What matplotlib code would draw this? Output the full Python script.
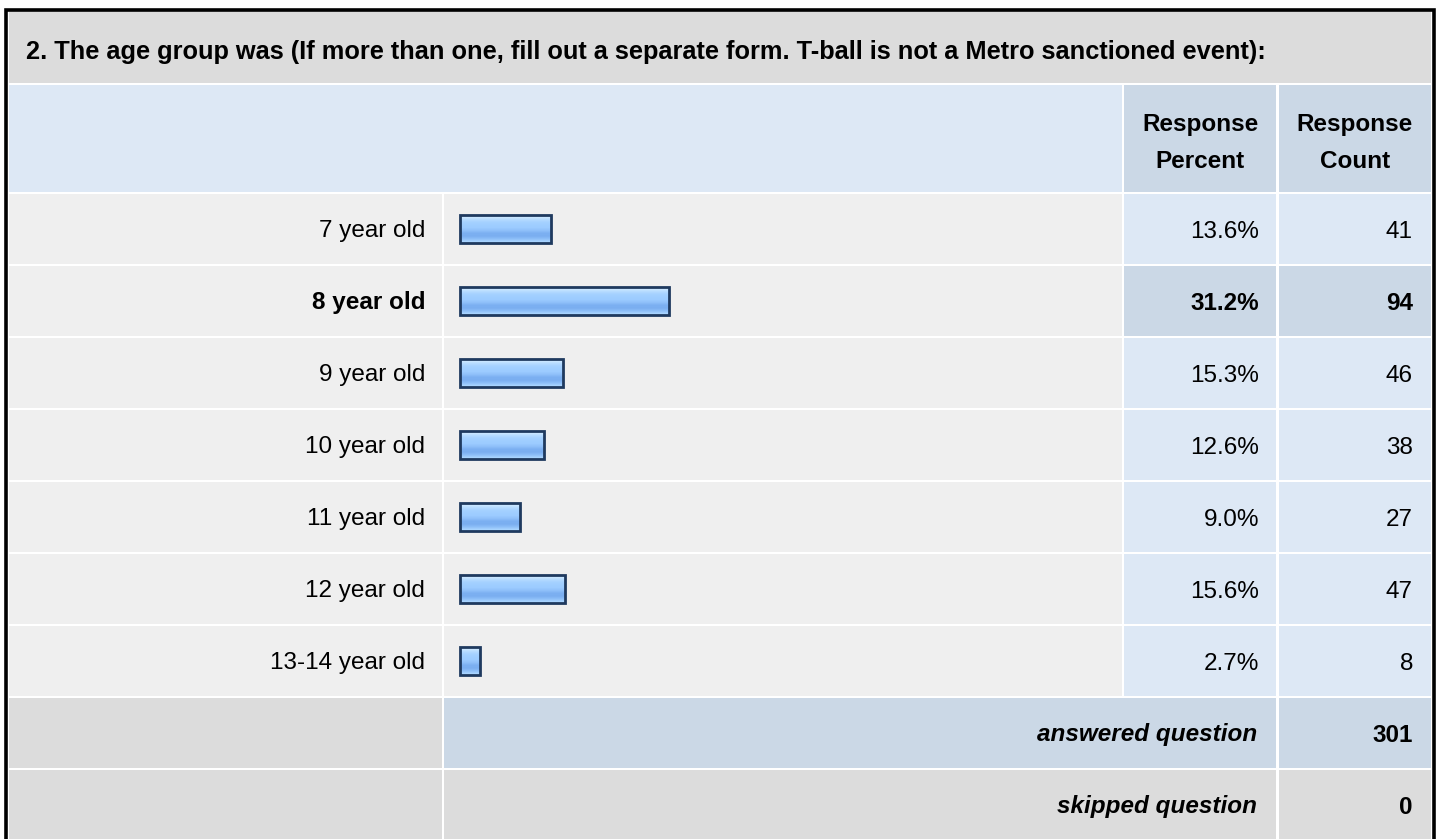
# plot.py
# survey results table: age group question, bars drawn with barh
import matplotlib
matplotlib.use('Agg')
import matplotlib.pyplot as plt
from matplotlib.patches import Rectangle
import numpy as np

plt.rcParams['font.family'] = ['Liberation Sans', 'DejaVu Sans']

# data
title = '2. The age group was (If more than one, fill out a separate form. T-ball is not a Metro sanctioned event):'
labels = ['7 year old', '8 year old', '9 year old', '10 year old', '11 year old', '12 year old', '13-14 year old']
percents = [13.6, 31.2, 15.3, 12.6, 9.0, 15.6, 2.7]
counts = [41, 94, 46, 38, 27, 47, 8]
answered = 301
skipped = 0
top_row = 1  # the highlighted (largest) answer

# colours
grey = '#dcdcdc'
row_grey = '#efefef'
light_blue = '#dde8f5'
mid_blue = '#cbd8e6'
fs = 17.5
off = 8.5  # baseline offset so caps sit centred in a row

fig = plt.figure(figsize=(14.4, 8.39), dpi=100)
ax = fig.add_axes([0, 0, 1, 1])
ax.set_xlim(0, 1440)
ax.set_ylim(839, 0)
ax.axis('off')

# column edges (pixels)
c_lab = (9, 442)
c_bar = (444, 1122)
c_pct = (1124, 1276)
c_cnt = (1279, 1431)

def cell(x0, x1, y0, y1, color):
    ax.add_patch(Rectangle((x0, y0), x1 - x0, y1 - y0, facecolor=color, edgecolor='none', zorder=1))

# title row
cell(c_lab[0], c_cnt[1], 11, 83, grey)
ax.text(26, 50 + 9, title, fontsize=18.3, fontweight='bold', va='baseline', ha='left')

# header row
cell(c_lab[0], c_bar[1], 85, 192, light_blue)
cell(c_pct[0], c_pct[1], 85, 192, mid_blue)
cell(c_cnt[0], c_cnt[1], 85, 192, mid_blue)
for x, top, bot in [((c_pct[0] + c_pct[1]) / 2, 'Response', 'Percent'),
                    ((c_cnt[0] + c_cnt[1]) / 2, 'Response', 'Count')]:
    ax.text(x, 123 + off, top, fontsize=fs, fontweight='bold', ha='center', va='baseline')
    ax.text(x, 160 + off, bot, fontsize=fs, fontweight='bold', ha='center', va='baseline')

# answer rows
row_top = 194
pitch = 72
row_h = 70
centers = np.array([row_top + pitch * i + row_h / 2 for i in range(len(labels))])
for i, lab in enumerate(labels):
    y0 = row_top + pitch * i
    y1 = y0 + row_h
    hi = (i == top_row)
    cell(c_lab[0], c_lab[1], y0, y1, row_grey)
    cell(c_bar[0], c_bar[1], y0, y1, row_grey)
    cell(c_pct[0], c_pct[1], y0, y1, mid_blue if hi else light_blue)
    cell(c_cnt[0], c_cnt[1], y0, y1, mid_blue if hi else light_blue)
    w = 'bold' if hi else 'normal'
    ax.text(425, centers[i] + off, lab, fontsize=fs, fontweight=w, ha='right', va='baseline')
    ax.text(1259, centers[i] + off, f'{percents[i]:.1f}%', fontsize=fs, fontweight=w, ha='right', va='baseline')
    ax.text(1413, centers[i] + off, str(counts[i]), fontsize=fs, fontweight=w, ha='right', va='baseline')

# bars with a glossy vertical gradient
px_per_pct = 6.7
bar_left = 460
bar_h = 28
widths = np.maximum(np.array(percents) * px_per_pct, 20)
bars = ax.barh(centers, widths, left=bar_left, height=bar_h, color='#9ccaff', zorder=2)
grad_colors = ['#d4ebff', '#b8ddff', '#a6d2ff', '#a0ceff', '#9ccbff', '#8fc0fa',
               '#7cb0f2', '#7aaef0', '#8cbef8', '#a8d4ff']
grad = matplotlib.colors.to_rgba_array(grad_colors)[:, :3].reshape(-1, 1, 3)
for b in bars:
    x, y = b.get_x(), b.get_y()
    im = ax.imshow(grad, extent=(x, x + b.get_width(), y + b.get_height(), y),
                   aspect='auto', interpolation='bilinear', zorder=3)
    im.set_clip_path(b)
ax.barh(centers, widths, left=bar_left, height=bar_h, fill=False,
        edgecolor='#1f3a5f', linewidth=2.0, zorder=4)
ax.set_xlim(0, 1440)
ax.set_ylim(839, 0)

# footer rows
y0 = row_top + pitch * len(labels)
cell(c_lab[0], c_lab[1], y0, y0 + row_h, grey)
cell(c_bar[0], c_pct[1], y0, y0 + row_h, mid_blue)
cell(c_cnt[0], c_cnt[1], y0, y0 + row_h, mid_blue)
ax.text(1257, y0 + row_h / 2 + off, 'answered question', fontsize=fs, fontweight='bold',
        fontstyle='italic', ha='right', va='baseline')
ax.text(1413, y0 + row_h / 2 + off, str(answered), fontsize=fs, fontweight='bold', ha='right', va='baseline')

y0 += pitch
cell(c_lab[0], c_lab[1], y0, y0 + row_h + 5, grey)
cell(c_bar[0], c_pct[1], y0, y0 + row_h + 5, grey)
cell(c_cnt[0], c_cnt[1], y0, y0 + row_h + 5, grey)
ax.text(1257, y0 + row_h / 2 + off, 'skipped question', fontsize=fs, fontweight='bold',
        fontstyle='italic', ha='right', va='baseline')
ax.text(1413, y0 + row_h / 2 + off, str(skipped), fontsize=fs, fontweight='bold', ha='right', va='baseline')

# outer black frame (left, top, right)
ax.plot([5.5, 5.5, 1433.5, 1433.5], [845, 9.5, 9.5, 845], color='black', linewidth=2.6,
        solid_joinstyle='miter', zorder=5)

fig.savefig('out.png', dpi=100)
